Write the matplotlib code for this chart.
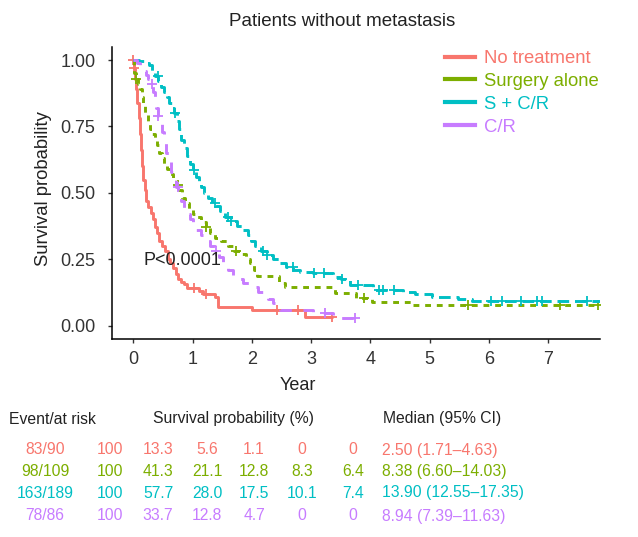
import numpy as np
import matplotlib
matplotlib.use('Agg')
import matplotlib.pyplot as plt
from matplotlib.lines import Line2D

plt.rcParams['font.family'] = ['Liberation Sans', 'DejaVu Sans']

# ---------------- data ----------------
groups = ['No treatment', 'Surgery alone', 'S + C/R', 'C/R']
colors = ['#F8766D', '#7CAE00', '#00BFC4', '#C77CFF']

# No treatment (step times in years, survival after each step)
red_t = [0, 0.01, 0.03, 0.05, 0.07, 0.09, 0.11, 0.13, 0.15, 0.17,
         0.19, 0.22, 0.25, 0.30, 0.34, 0.37, 0.40, 0.44, 0.48, 0.53,
         0.58, 0.62, 0.67, 0.72, 0.76, 0.80, 0.86, 0.90, 1.10, 1.18,
         1.37, 1.43, 2.00, 2.90]
red_s = [1.0, 0.97, 0.93, 0.89, 0.84, 0.78, 0.72, 0.66, 0.60, 0.55,
         0.51, 0.47, 0.445, 0.425, 0.40, 0.37, 0.35, 0.32, 0.30, 0.28,
         0.25, 0.235, 0.215, 0.195, 0.175, 0.165, 0.155, 0.14, 0.13, 0.12,
         0.109, 0.071, 0.059, 0.034]
red_end = 3.37
red_cens = [0.0, 0.02, 1.02, 1.22, 2.42, 2.78, 3.35]

# Surgery alone
green_t = [0, 0.02, 0.05, 0.08, 0.11, 0.14, 0.17, 0.20, 0.24, 0.28,
           0.32, 0.36, 0.40, 0.44, 0.48, 0.52, 0.57, 0.62, 0.67, 0.72,
           0.77, 0.82, 0.88, 0.94, 1.00, 1.08, 1.15, 1.22, 1.30, 1.38,
           1.48, 1.60, 1.70, 1.80, 1.90, 1.97, 2.04, 2.08, 2.45, 2.55,
           3.40, 3.75, 4.03, 4.72]
green_s = [1.0, 0.95, 0.93, 0.91, 0.89, 0.86, 0.83, 0.80, 0.77, 0.74,
           0.72, 0.70, 0.68, 0.65, 0.63, 0.61, 0.59, 0.57, 0.55, 0.53,
           0.51, 0.48, 0.46, 0.44, 0.42, 0.41, 0.39, 0.37, 0.35, 0.33,
           0.32, 0.30, 0.28, 0.27, 0.25, 0.235, 0.21, 0.187, 0.16, 0.146,
           0.121, 0.104, 0.09, 0.078]
green_end = 7.85
green_cens = [0.05, 0.75, 1.23, 1.74, 3.89, 5.64, 7.20, 7.83]

# S + C/R
cyan_t = [0, 0.10, 0.20, 0.27, 0.32, 0.37, 0.42, 0.47, 0.52, 0.57,
          0.61, 0.65, 0.69, 0.73, 0.77, 0.81, 0.86, 0.90, 0.95, 1.00,
          1.05, 1.10, 1.15, 1.20, 1.26, 1.32, 1.38, 1.46, 1.55, 1.65,
          1.75, 1.85, 1.93, 1.99, 2.06, 2.15, 2.25, 2.35, 2.47, 2.58,
          2.70, 2.81, 3.03, 3.37, 3.50, 3.65, 4.05, 4.55, 4.75, 5.03,
          5.48, 5.72]
cyan_s = [1.0, 0.995, 0.99, 0.98, 0.96, 0.94, 0.92, 0.90, 0.88, 0.86,
          0.84, 0.82, 0.80, 0.77, 0.74, 0.70, 0.67, 0.64, 0.61, 0.585,
          0.56, 0.54, 0.52, 0.50, 0.48, 0.46, 0.45, 0.43, 0.41, 0.395,
          0.375, 0.36, 0.34, 0.32, 0.30, 0.28, 0.266, 0.25, 0.236, 0.222,
          0.21, 0.203, 0.198, 0.184, 0.175, 0.153, 0.134, 0.125, 0.119, 0.106,
          0.099, 0.093]
cyan_end = 7.87
cyan_cens = [0.41, 0.70, 1.03, 1.37, 1.60, 1.65, 2.18, 2.25, 2.69, 3.05,
             3.22, 3.52, 3.79, 4.14, 4.21, 4.40, 6.03, 6.22, 6.54, 6.81,
             6.90, 7.65]

# C/R
purple_t = [0, 0.06, 0.12, 0.17, 0.21, 0.25, 0.29, 0.33, 0.36, 0.39,
            0.42, 0.45, 0.48, 0.52, 0.56, 0.60, 0.64, 0.68, 0.72, 0.76,
            0.80, 0.85, 0.90, 0.95, 1.00, 1.06, 1.14, 1.22, 1.30, 1.38,
            1.45, 1.52, 1.60, 1.68, 1.75, 1.85, 1.95, 2.10, 2.20, 2.28,
            2.36, 2.42, 2.47, 3.03, 3.37]
purple_s = [1.0, 0.99, 0.98, 0.96, 0.945, 0.93, 0.91, 0.88, 0.85, 0.82,
            0.79, 0.76, 0.73, 0.69, 0.65, 0.62, 0.58, 0.55, 0.52, 0.50,
            0.47, 0.44, 0.42, 0.40, 0.38, 0.36, 0.34, 0.32, 0.30, 0.28,
            0.26, 0.235, 0.21, 0.19, 0.175, 0.16, 0.146, 0.128, 0.115, 0.100,
            0.085, 0.071, 0.059, 0.047, 0.029]
purple_end = 3.74
purple_cens = [0.31, 0.42, 0.75, 1.40, 3.23, 3.74]

x_ticks = [0, 1, 2, 3, 4, 5, 6, 7]
y_ticks = [0.0, 0.25, 0.50, 0.75, 1.00]
y_tick_labels = ['0.00', '0.25', '0.50', '0.75', '1.00']

title = 'Patients without metastasis'
p_text = 'P<0.0001'

# risk table
event_at_risk = ['83/90', '98/109', '163/189', '78/86']
surv_pct = [['100', '13.3', '5.6', '1.1', '0', '0'],
            ['100', '41.3', '21.1', '12.8', '8.3', '6.4'],
            ['100', '57.7', '28.0', '17.5', '10.1', '7.4'],
            ['100', '33.7', '12.8', '4.7', '0', '0']]
medians = ['2.50 (1.71\u20134.63)', '8.38 (6.60\u201314.03)',
           '13.90 (12.55\u201317.35)', '8.94 (7.39\u201311.63)']

# ---------------- figure ----------------
W, H = 638, 537
fig = plt.figure(figsize=(W / 100, H / 100), dpi=100)

def fx(px):
    return px / W

def fy(py):
    return 1 - py / H

ax_l, ax_r, ax_t, ax_b = 111.7, 600, 47, 339
ax = fig.add_axes([fx(ax_l), fy(ax_b), fx(ax_r) - fx(ax_l), fy(ax_t) - fy(ax_b)])

curves = [(red_t, red_s, red_end, red_cens, '-'),
          (green_t, green_s, green_end, green_cens, (0, (2, 2))),
          (cyan_t, cyan_s, cyan_end, cyan_cens, (0, (4, 2))),
          (purple_t, purple_s, purple_end, purple_cens, (0, (4, 4)))]

for (t, s, end, cens, ls), col in zip(curves, colors):
    tt = np.array(list(t) + [end])
    ss = np.array(list(s) + [s[-1]])
    ax.step(tt, ss, where='post', color=col, lw=2.1, linestyle=ls,
            solid_capstyle='butt', dash_capstyle='butt')
    t_arr = np.array(t)
    idx = np.searchsorted(t_arr, np.array(cens), side='right') - 1
    cy = np.array(s)[idx]
    ax.plot(cens, cy, linestyle='none', marker='+', color=col,
            markersize=7, markeredgewidth=1.3)

ax.set_xlim(-0.364, 7.87)
ax.set_ylim(-0.0505, 1.049)
ax.set_xticks(x_ticks)
ax.set_yticks(y_ticks)
ax.set_yticklabels(y_tick_labels)
for sp in ['top', 'right']:
    ax.spines[sp].set_visible(False)
for sp in ['left', 'bottom']:
    ax.spines[sp].set_linewidth(1.1)
    ax.spines[sp].set_color('black')
ax.tick_params(axis='both', length=2.6, width=1.0, color='#333333',
               labelcolor='#333333', labelsize=13)
ax.tick_params(axis='y', pad=9)
ax.tick_params(axis='x', pad=6)

ax.text(0.18, 0.246, p_text, fontsize=13, color='#222222', ha='left', va='center')

handles = [Line2D([], [], color=c, lw=3) for c in colors]
leg = ax.legend(handles, groups, loc='upper left',
                bbox_to_anchor=(fx(445), fy(50)), bbox_transform=fig.transFigure,
                frameon=False, fontsize=13.3, handlelength=1.6,
                handletextpad=0.5, labelspacing=0.32, borderpad=0,
                borderaxespad=0, labelcolor='linecolor')

fig.text(fx(342.6), fy(21), title, fontsize=13.5, color='#222222',
         ha='center', va='center')
fig.text(fx(298), fy(386), 'Year', fontsize=13, color='#222222',
         ha='center', va='center')
fig.text(fx(43.5), fy(189), 'Survival probability', fontsize=13.3,
         color='#222222', ha='center', va='center', rotation=90)

# ---------------- table ----------------
tfs = 11.3
fig.text(fx(9), fy(419), 'Event/at risk', fontsize=tfs, color='#222222',
         ha='left', va='center')
fig.text(fx(233), fy(419), 'Survival probability (%)', fontsize=tfs,
         color='#222222', ha='center', va='center')
fig.text(fx(383), fy(419), 'Median (95% CI)', fontsize=tfs,
         color='#222222', ha='left', va='center')

row_y = [450, 471.5, 493, 516]
col_x = [110.5, 158, 207, 254, 302, 353]
for i, col in enumerate(colors):
    fig.text(fx(45), fy(row_y[i]), event_at_risk[i], fontsize=tfs, color=col,
             ha='center', va='center')
    for j, v in enumerate(surv_pct[i]):
        fig.text(fx(col_x[j]), fy(row_y[i]), v, fontsize=tfs, color=col,
                 ha='center', va='center')
    fig.text(fx(382), fy(row_y[i]), medians[i], fontsize=tfs, color=col,
             ha='left', va='center')

fig.savefig('out.png', dpi=100)
